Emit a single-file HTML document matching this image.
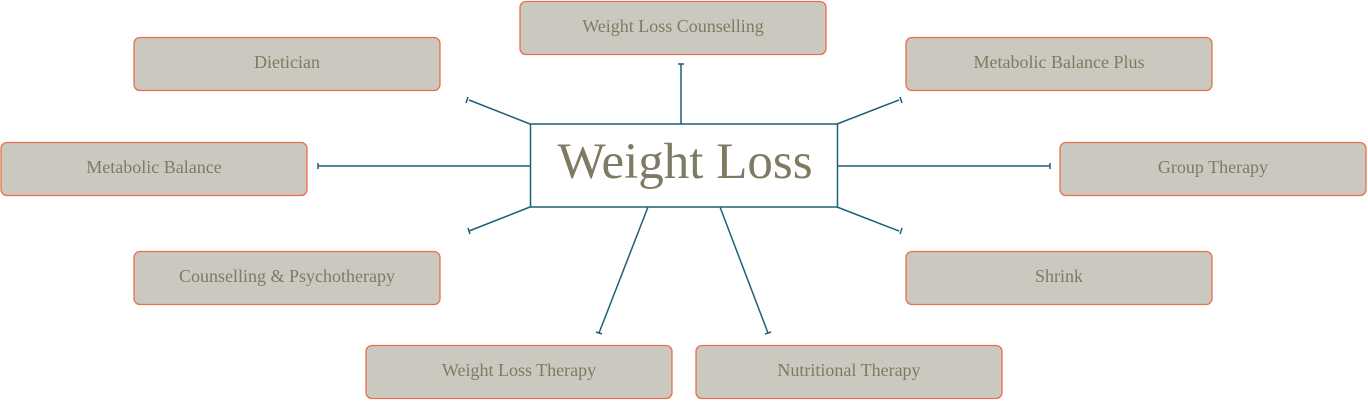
<!DOCTYPE html>
<html><head><meta charset="utf-8"><style>
html,body{margin:0;padding:0;background:#fff;}
svg{display:block;}
text{font-family:"Liberation Serif",serif;fill:#7f7a62;}
</style></head><body>
<svg width="1368" height="401" viewBox="0 0 1368 401" xmlns="http://www.w3.org/2000/svg">
<g fill="#cbc8bf" stroke="#e8704a" stroke-width="1.3">
<rect x="520" y="1.5" width="306" height="53" rx="6"/>
<rect x="134" y="37.5" width="306" height="53" rx="6"/>
<rect x="906" y="37.5" width="306" height="53" rx="6"/>
<rect x="1" y="142.5" width="306" height="53" rx="6"/>
<rect x="1060" y="142.5" width="306" height="53" rx="6"/>
<rect x="134" y="251.5" width="306" height="53" rx="6"/>
<rect x="906" y="251.5" width="306" height="53" rx="6"/>
<rect x="366" y="345.5" width="306" height="53" rx="6"/>
<rect x="696" y="345.5" width="306" height="53" rx="6"/>
</g>
<g font-size="18" text-anchor="middle">
<text x="673" y="32">Weight Loss Counselling</text>
<text x="287" y="68">Dietician</text>
<text x="1059" y="68">Metabolic Balance Plus</text>
<text x="154" y="173">Metabolic Balance</text>
<text x="1213" y="173">Group Therapy</text>
<text x="287" y="282">Counselling &amp; Psychotherapy</text>
<text x="1059" y="282">Shrink</text>
<text x="519" y="376">Weight Loss Therapy</text>
<text x="849" y="376">Nutritional Therapy</text>
</g>
<g stroke="#1f5f7a" stroke-width="1.5" fill="none">
<rect x="530.5" y="124" width="307" height="83" fill="#fff"/>
<path d="M681 124V64M678 64h6"/>
<path d="M530 124L469 100M468 97l-2 6"/>
<path d="M837 124L899 100M900 97l2 6"/>
<path d="M530 166H318M318 163v6"/>
<path d="M837 166H1050M1050 163v6"/>
<path d="M530 207L469 231M468 228l2 6"/>
<path d="M837 207L899 231M900 234l2-6"/>
<path d="M648 207L599 333M596 332l6 2"/>
<path d="M720 207L768 333M765 334l6-2"/>
</g>
<text x="685" y="178" font-size="51" text-anchor="middle">Weight Loss</text>
</svg>
</body></html>
